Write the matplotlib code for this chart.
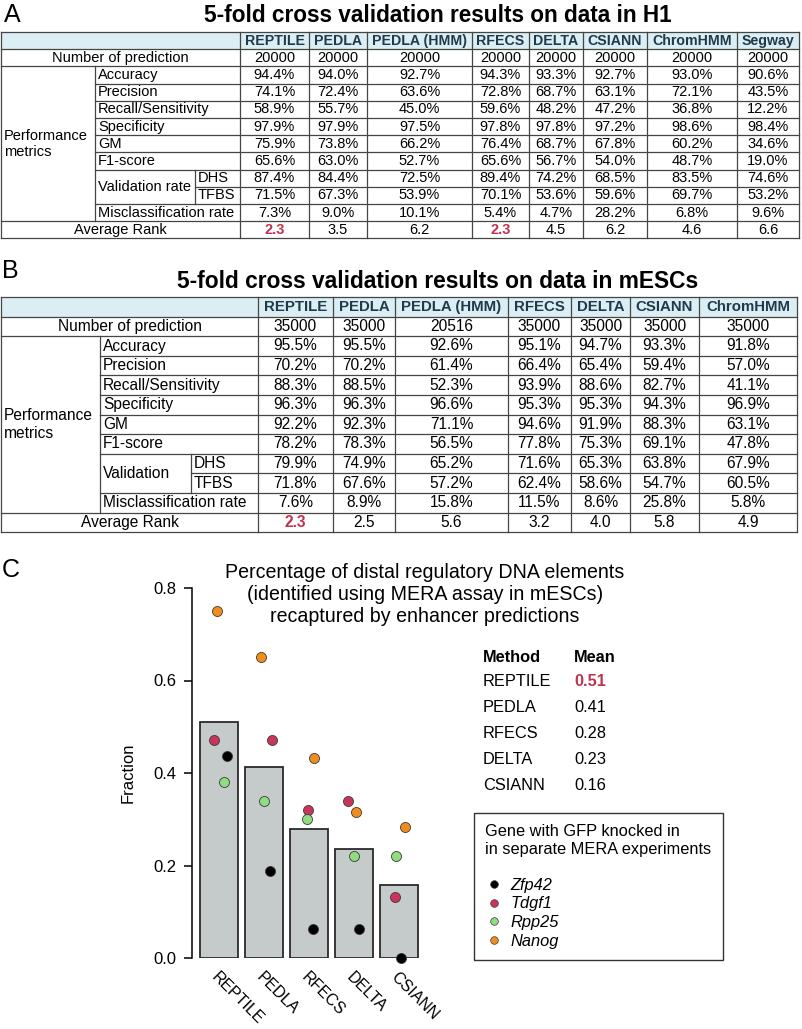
import numpy as np
import matplotlib.pyplot as plt
from matplotlib.patches import Rectangle
from matplotlib.lines import Line2D

plt.rcParams['font.family'] = ['Liberation Sans', 'DejaVu Sans']

# ---- A: 5-fold CV on H1
h1_methods = ['REPTILE', 'PEDLA', 'PEDLA (HMM)', 'RFECS', 'DELTA', 'CSIANN', 'ChromHMM', 'Segway']
h1_npred = [20000, 20000, 20000, 20000, 20000, 20000, 20000, 20000]
h1_accuracy = [94.4, 94.0, 92.7, 94.3, 93.3, 92.7, 93.0, 90.6]
h1_precision = [74.1, 72.4, 63.6, 72.8, 68.7, 63.1, 72.1, 43.5]
h1_recall = [58.9, 55.7, 45.0, 59.6, 48.2, 47.2, 36.8, 12.2]
h1_specificity = [97.9, 97.9, 97.5, 97.8, 97.8, 97.2, 98.6, 98.4]
h1_gm = [75.9, 73.8, 66.2, 76.4, 68.7, 67.8, 60.2, 34.6]
h1_f1 = [65.6, 63.0, 52.7, 65.6, 56.7, 54.0, 48.7, 19.0]
h1_dhs = [87.4, 84.4, 72.5, 89.4, 74.2, 68.5, 83.5, 74.6]
h1_tfbs = [71.5, 67.3, 53.9, 70.1, 53.6, 59.6, 69.7, 53.2]
h1_misclass = [7.3, 9.0, 10.1, 5.4, 4.7, 28.2, 6.8, 9.6]
h1_rank = [2.3, 3.5, 6.2, 2.3, 4.5, 6.2, 4.6, 6.6]

# ---- B: 5-fold CV on mESCs
mesc_methods = ['REPTILE', 'PEDLA', 'PEDLA (HMM)', 'RFECS', 'DELTA', 'CSIANN', 'ChromHMM']
mesc_npred = [35000, 35000, 20516, 35000, 35000, 35000, 35000]
mesc_accuracy = [95.5, 95.5, 92.6, 95.1, 94.7, 93.3, 91.8]
mesc_precision = [70.2, 70.2, 61.4, 66.4, 65.4, 59.4, 57.0]
mesc_recall = [88.3, 88.5, 52.3, 93.9, 88.6, 82.7, 41.1]
mesc_specificity = [96.3, 96.3, 96.6, 95.3, 95.3, 94.3, 96.9]
mesc_gm = [92.2, 92.3, 71.1, 94.6, 91.9, 88.3, 63.1]
mesc_f1 = [78.2, 78.3, 56.5, 77.8, 75.3, 69.1, 47.8]
mesc_dhs = [79.9, 74.9, 65.2, 71.6, 65.3, 63.8, 67.9]
mesc_tfbs = [71.8, 67.6, 57.2, 62.4, 58.6, 54.7, 60.5]
mesc_misclass = [7.6, 8.9, 15.8, 11.5, 8.6, 25.8, 5.8]
mesc_rank = [2.3, 2.5, 5.6, 3.2, 4.0, 5.8, 4.9]

metric_names = ['Accuracy', 'Precision', 'Recall/Sensitivity', 'Specificity', 'GM', 'F1-score']

# ---- C: MERA elements recaptured
mera_methods = ['REPTILE', 'PEDLA', 'RFECS', 'DELTA', 'CSIANN']
genes = ['Zfp42', 'Tdgf1', 'Rpp25', 'Nanog']
zfp42 = [0.437, 0.1875, 0.0625, 0.0625, 0.0]
tdgf1 = [0.471, 0.471, 0.32, 0.34, 0.131]
rpp25 = [0.38, 0.34, 0.30, 0.22, 0.22]
nanog = [0.75, 0.65, 0.433, 0.316, 0.283]

# horizontal jitter of the dots (same as in the figure)
zfp42_dx = [0.17, 0.14, 0.08, 0.10, 0.04]
tdgf1_dx = [-0.12, 0.17, -0.03, -0.14, -0.10]
rpp25_dx = [0.10, -0.01, -0.05, 0.0, -0.07]
nanog_dx = [-0.04, -0.07, 0.12, 0.04, 0.13]
gene_colors = ['black', '#c9355a', '#8fdd80', '#ef8e1c']

HEAD_BG = '#daeef3'
HEAD_FG = '#1f3a4a'
RED = '#c0334f'
GRID = '#454545'

fig = plt.figure(figsize=(8.02, 10.29), dpi=100)
page = fig.add_axes([0, 0, 1, 1])
page.set_xlim(0, 802)
page.set_ylim(1029, 0)
page.axis('off')


def draw_table(top, row_h, label_x, col_x, methods, columns, ranks, val_label, fs, hfs):
    ys = [top + i * row_h for i in range(13)]
    left, right = label_x[0], col_x[-1]
    page.add_patch(Rectangle((left, ys[0]), right - left, row_h, facecolor=HEAD_BG, edgecolor='none'))

    def hl(y, x0):
        page.plot([x0, right], [y, y], color=GRID, lw=0.9)

    def vl(x, y0, y1):
        page.plot([x, x], [y0, y1], color=GRID, lw=0.9)

    for i in [0, 1, 2, 11, 12]:
        hl(ys[i], left)
    for i in [3, 4, 5, 6, 7, 8, 10]:
        hl(ys[i], label_x[1])
    hl(ys[9], label_x[2])
    vl(left, ys[0], ys[12])
    vl(label_x[1], ys[2], ys[11])
    vl(label_x[2], ys[8], ys[10])
    for x in col_x:
        vl(x, ys[0], ys[12])

    mid = lambda i: (ys[i] + ys[i + 1]) / 2
    page.text((left + col_x[0]) / 2, mid(1), 'Number of prediction', ha='center', va='center', fontsize=fs)
    page.text(left + 3, (ys[2] + ys[11]) / 2, 'Performance\nmetrics', ha='left', va='center',
              fontsize=fs, linespacing=1.2)
    for k, name in enumerate(metric_names):
        page.text(label_x[1] + 3, mid(2 + k), name, ha='left', va='center', fontsize=fs)
    page.text(label_x[1] + 3, ys[9], val_label, ha='left', va='center', fontsize=fs)
    page.text(label_x[2] + 3, mid(8), 'DHS', ha='left', va='center', fontsize=fs)
    page.text(label_x[2] + 3, mid(9), 'TFBS', ha='left', va='center', fontsize=fs)
    page.text(label_x[1] + 3, mid(10), 'Misclassification rate', ha='left', va='center', fontsize=fs)
    page.text((left + col_x[0]) / 2, mid(11), 'Average Rank', ha='center', va='center', fontsize=fs)

    best = min(ranks)
    for j, m in enumerate(methods):
        cx = (col_x[j] + col_x[j + 1]) / 2
        page.text(cx, mid(0), m, ha='center', va='center', fontsize=hfs, fontweight='bold', color=HEAD_FG)
        page.text(cx, mid(1), str(columns[0][j]), ha='center', va='center', fontsize=fs)
        for k, col in enumerate(columns[1:]):
            page.text(cx, mid(2 + k), f'{col[j]:.1f}%', ha='center', va='center', fontsize=fs)
        if ranks[j] == best:
            page.text(cx, mid(11), f'{ranks[j]:.1f}', ha='center', va='center', fontsize=fs,
                      fontweight='bold', color=RED)
        else:
            page.text(cx, mid(11), f'{ranks[j]:.1f}', ha='center', va='center', fontsize=fs)


# panel A
page.text(4, 15, 'A', fontsize=18, ha='left', va='center')
page.text(438, 16, '5-fold cross validation results on data in H1', fontsize=16.3,
          fontweight='bold', ha='center', va='center')
draw_table(32, 17.2, [1, 95, 195, 240], [240, 309, 367, 472, 529, 583, 647, 737, 799],
           h1_methods,
           [h1_npred, h1_accuracy, h1_precision, h1_recall, h1_specificity, h1_gm, h1_f1,
            h1_dhs, h1_tfbs, h1_misclass],
           h1_rank, 'Validation rate', 10.5, 10.2)

# panel B
page.text(2, 271, 'B', fontsize=18, ha='left', va='center')
page.text(438, 282, '5-fold cross validation results on data in mESCs', fontsize=16.4,
          fontweight='bold', ha='center', va='center')
draw_table(297, 19.6, [1, 100, 191, 258], [258, 333, 395, 508, 571, 630, 699, 797],
           mesc_methods,
           [mesc_npred, mesc_accuracy, mesc_precision, mesc_recall, mesc_specificity, mesc_gm,
            mesc_f1, mesc_dhs, mesc_tfbs, mesc_misclass],
           mesc_rank, 'Validation', 11.2, 10.8)

# panel C
page.text(2, 570, 'C', fontsize=18, ha='left', va='center')
page.text(425, 595, 'Percentage of distal regulatory DNA elements\n(identified using MERA assay in mESCs)\n'
          'recaptured by enhancer predictions', ha='center', va='center', fontsize=14.1, linespacing=1.2)

gene_vals = np.array([zfp42, tdgf1, rpp25, nanog])
gene_dx = [zfp42_dx, tdgf1_dx, rpp25_dx, nanog_dx]
means = gene_vals.mean(axis=0)
x = np.arange(len(mera_methods))

ax = fig.add_axes([192 / 802, (1029 - 958) / 1029, 234 / 802, 370 / 1029])
ax.patch.set_alpha(0)
ax.bar(x, means, width=0.84, color='#c5cbca', edgecolor='#2a2a2a', linewidth=1.3, zorder=1)
for vals, dx, c in zip(gene_vals, gene_dx, gene_colors):
    ax.scatter(x + np.array(dx), vals, s=52, color=c, edgecolors='#3a3a3a', linewidths=0.6,
               zorder=3, clip_on=False)
ax.set_xlim(-0.6, 4.6)
ax.set_ylim(0, 0.8)
for s in ['top', 'right', 'bottom']:
    ax.spines[s].set_visible(False)
ax.spines['left'].set_bounds(0, 0.8)
ax.spines['left'].set_linewidth(1.1)
ax.set_yticks([0, 0.2, 0.4, 0.6, 0.8])
ax.set_yticklabels(['0.0', '0.2', '0.4', '0.6', '0.8'])
ax.tick_params(axis='y', length=6, width=1.1, labelsize=12, pad=5)
ax.set_xticks(x)
ax.set_xticklabels(mera_methods, rotation=-45, ha='left', va='top', rotation_mode='anchor',
                   fontsize=11.5)
ax.tick_params(axis='x', length=0, pad=8)
ax.set_ylabel('Fraction', fontsize=12, labelpad=13)

# mean summary
page.text(483, 658, 'Method', fontsize=11.8, fontweight='bold', ha='left', va='center')
page.text(574, 658, 'Mean', fontsize=11.8, fontweight='bold', ha='left', va='center')
top_i = int(np.argmax(means))
for i, (m, v) in enumerate(zip(mera_methods, means)):
    yy = 682 + 26 * i
    page.text(483, yy, m, fontsize=11.8, ha='left', va='center')
    if i == top_i:
        page.text(574, yy, f'{v:.2f}', fontsize=11.8, ha='left', va='center',
                  fontweight='bold', color=RED)
    else:
        page.text(574, yy, f'{v:.2f}', fontsize=11.8, ha='left', va='center')

handles = [Line2D([], [], marker='o', ls='none', mfc=c, mec='#3a3a3a', mew=0.5, ms=5.5)
           for c in gene_colors]
leg = ax.legend(handles, genes, title='Gene with GFP knocked in\nin separate MERA experiments\n',
                loc='upper left', bbox_to_anchor=(474 / 802, 1 - 813 / 1029),
                bbox_transform=fig.transFigure, frameon=True, fancybox=False,
                edgecolor='black', alignment='left', prop={'style': 'italic', 'size': 11.8},
                title_fontsize=11.8, labelspacing=0.22, handletextpad=0.5, handlelength=1.0,
                borderpad=0.7, borderaxespad=0)
leg.get_frame().set_linewidth(1.0)

fig.savefig('out.png', dpi=100)
